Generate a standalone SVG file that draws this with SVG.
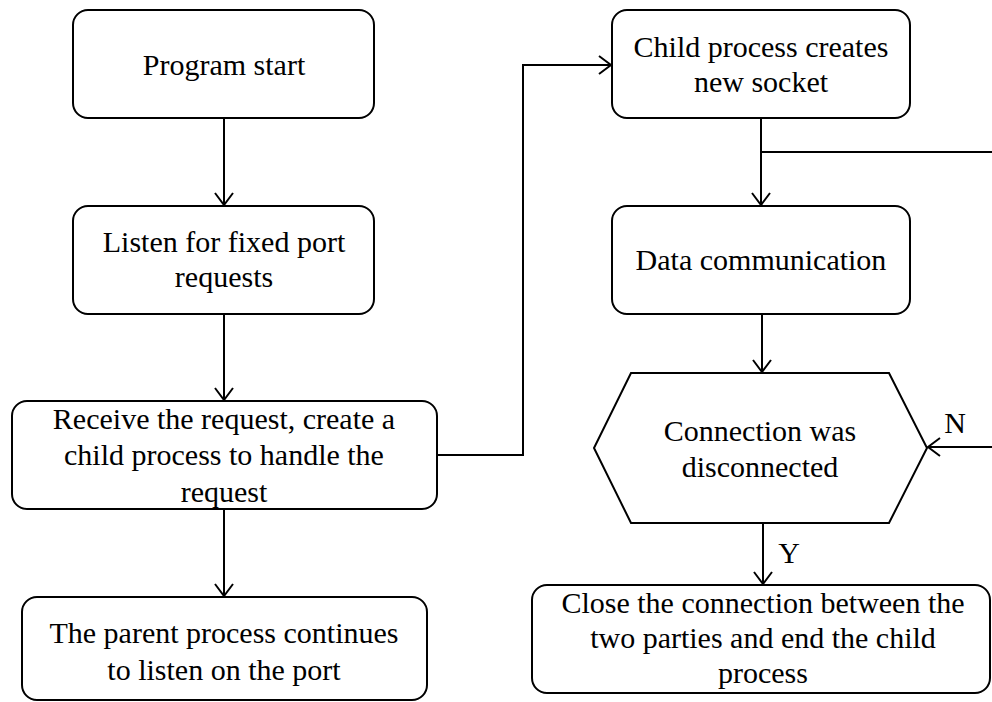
<svg xmlns="http://www.w3.org/2000/svg" width="992" height="702" viewBox="0 0 992 702">
  <style>
    .box { fill: #fff; stroke: #000; stroke-width: 2; }
    .lbl { font-family: "Liberation Serif", "Times New Roman", serif; font-size: 30px; fill: #000; text-anchor: middle; }
    .edge { fill: none; stroke: #000; stroke-width: 2; }
  </style>
  <defs>
    <marker id="arr" viewBox="0 0 14 20" refX="13" refY="10" markerWidth="14" markerHeight="20" markerUnits="userSpaceOnUse" orient="auto">
      <path d="M1,1 L13,10 L1,19" fill="none" stroke="#000" stroke-width="2"/>
    </marker>
  </defs>
  <rect width="992" height="702" fill="#fff"/>

  <g id="connectors">
    <path class="edge" d="M224,118 V205" marker-end="url(#arr)"/>
    <path class="edge" d="M224,314 V400" marker-end="url(#arr)"/>
    <path class="edge" d="M224,509 V596" marker-end="url(#arr)"/>
    <path class="edge" d="M437,455 H523 V65 H611" marker-end="url(#arr)"/>
    <path class="edge" d="M761,118 V205" marker-end="url(#arr)"/>
    <!-- loop back runs past the right border of the page -->
    <path class="edge" d="M761,152 H1004 V447 H928" marker-end="url(#arr)"/>
    <path class="edge" d="M762,314 V372" marker-end="url(#arr)"/>
    <path class="edge" d="M763,523 V584" marker-end="url(#arr)"/>
    <text class="lbl" x="955" y="433">N</text>
    <text class="lbl" x="789" y="563">Y</text>
  </g>

  <g id="program-start">
    <rect class="box" x="73" y="10" width="301" height="108" rx="15"/>
    <text class="lbl" x="224" y="75">Program start</text>
  </g>

  <g id="listen">
    <rect class="box" x="73" y="206" width="301" height="108" rx="15"/>
    <text class="lbl" x="224" y="252">Listen for fixed port</text>
    <text class="lbl" x="224" y="287">requests</text>
  </g>

  <g id="receive">
    <rect class="box" x="12" y="401" width="425" height="108" rx="15"/>
    <text class="lbl" x="224" y="429">Receive the request, create a</text>
    <text class="lbl" x="224" y="465">child process to handle the</text>
    <text class="lbl" x="224" y="502">request</text>
  </g>

  <g id="parent-continues">
    <rect class="box" x="22" y="597" width="405" height="103" rx="15"/>
    <text class="lbl" x="224" y="643">The parent process continues</text>
    <text class="lbl" x="224" y="680">to listen on the port</text>
  </g>

  <g id="child-socket">
    <rect class="box" x="612" y="10" width="298" height="108" rx="15"/>
    <text class="lbl" x="761" y="57">Child process creates</text>
    <text class="lbl" x="761" y="92">new socket</text>
  </g>

  <g id="data-comm">
    <rect class="box" x="612" y="206" width="298" height="108" rx="15"/>
    <text class="lbl" x="761" y="270">Data communication</text>
  </g>

  <g id="disconnected">
    <polygon class="box" points="631,373 889,373 927,448 889,523 631,523 594,448"/>
    <text class="lbl" x="760" y="441">Connection was</text>
    <text class="lbl" x="760" y="477">disconnected</text>
  </g>

  <g id="close-connection">
    <rect class="box" x="532" y="585" width="458" height="108" rx="15"/>
    <text class="lbl" x="763" y="613">Close the connection between the</text>
    <text class="lbl" x="763" y="648">two parties and end the child</text>
    <text class="lbl" x="763" y="683">process</text>
  </g>
</svg>
